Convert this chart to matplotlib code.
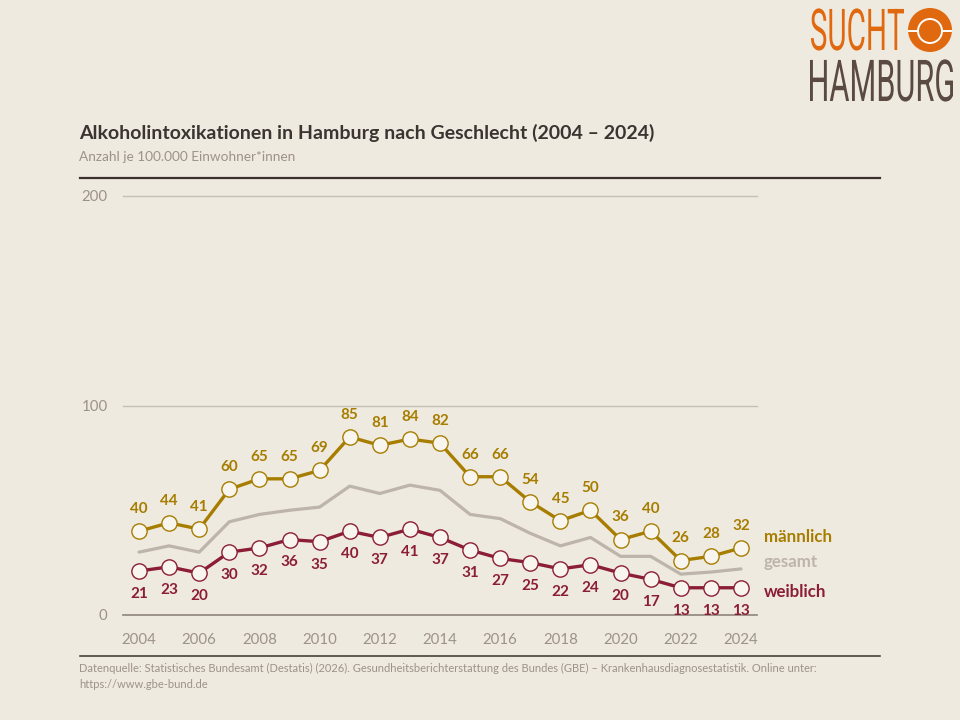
import matplotlib.pyplot as plt
from matplotlib.textpath import TextPath
from matplotlib.patches import PathPatch, Circle
from matplotlib.font_manager import FontProperties
from matplotlib.transforms import Affine2D
import matplotlib.lines as mlines

# data
years = list(range(2004, 2025))
maennlich = [40, 44, 41, 60, 65, 65, 69, 85, 81, 84, 82, 66, 66, 54, 45, 50, 36, 40, 26, 28, 32]
weiblich = [21, 23, 20, 30, 32, 36, 35, 40, 37, 41, 37, 31, 27, 25, 22, 24, 20, 17, 13, 13, 13]
gesamt = [30, 33, 30, 44.5, 48, 50, 51.5, 61.5, 58, 62, 59.5, 48, 46, 39, 33, 37, 28, 28, 19.5, 20.5, 22]
xticks = list(range(2004, 2025, 2))
yticks = [0, 100, 200]

bg = '#EEEAE0'
c_m = '#A77D00'
c_w = '#8C1D36'
c_g = '#BDB4AB'
c_axis = '#9C928A'
c_title = '#3B3430'

plt.rcParams['font.family'] = ['Lato', 'DejaVu Sans']

fig = plt.figure(figsize=(9.6, 7.2), dpi=100)
fig.patch.set_facecolor(bg)

W, H = 960, 720
ax = fig.add_axes([123 / W, 1 - 615 / H, (757 - 123) / W, (615 - 196) / H])
ax.set_facecolor(bg)
ax.set_xlim(2004 - 16 / 30.1, 2024 + 16 / 30.1)
ax.set_ylim(0, 200)
for s in ax.spines.values():
    s.set_visible(False)

for yv in yticks:
    ax.axhline(yv, color='#8E857D' if yv == 0 else '#C6BFB6', lw=1.2 if yv == 0 else 1.0,
               zorder=1, clip_on=False)

ax.set_xticks(xticks)
ax.set_xticklabels([str(x) for x in xticks])
ax.set_yticks(yticks)
ax.tick_params(length=0, labelsize=10.8, labelcolor=c_axis)
ax.tick_params(axis='x', pad=13)
ax.tick_params(axis='y', pad=11)

ax.plot(years, gesamt, color=c_g, lw=2.3, zorder=2, solid_capstyle='round')
ax.plot(years, maennlich, color=c_m, lw=2.4, marker='o', ms=11, mfc='#F8F5EE',
        mec=c_m, mew=1.0, zorder=3)
ax.plot(years, weiblich, color=c_w, lw=2.4, marker='o', ms=11, mfc='#F8F5EE',
        mec=c_w, mew=1.0, zorder=3)

for x, v in zip(years, maennlich):
    ax.annotate(str(v), (x, v), xytext=(0, 16), textcoords='offset points', ha='center',
                va='center', fontsize=11, fontweight='bold', color=c_m)
for x, v in zip(years, weiblich):
    ax.annotate(str(v), (x, v), xytext=(0, -16.5), textcoords='offset points', ha='center',
                va='center', fontsize=11, fontweight='bold', color=c_w)

ax.text(2024.75, 37.2, 'männlich', fontsize=12.2, fontweight='bold', color=c_m, va='center')
ax.text(2024.75, 25.3, 'gesamt', fontsize=12.2, fontweight='bold', color=c_g, va='center')
ax.text(2024.75, 11, 'weiblich', fontsize=12.2, fontweight='bold', color=c_w, va='center')

# title block
fig.text(79 / W, 1 - 133 / H, 'Alkoholintoxikationen in Hamburg nach Geschlecht (2004 – 2024)',
         fontsize=14, fontweight='bold', color=c_title, va='center')
fig.text(79 / W, 1 - 157 / H, 'Anzahl je 100.000 Einwohner*innen', fontsize=9.8,
         color=c_axis, va='center')
fig.add_artist(mlines.Line2D([80 / W, 880 / W], [1 - 178 / H, 1 - 178 / H],
                             color='#3B322C', lw=1.6))
fig.add_artist(mlines.Line2D([80 / W, 880 / W], [1 - 656 / H, 1 - 656 / H],
                             color='#3B322C', lw=1.1))
fig.text(79 / W, 1 - 668 / H,
         'Datenquelle: Statistisches Bundesamt (Destatis) (2026). Gesundheitsberichterstattung des '
         'Bundes (GBE) – Krankenhausdiagnosestatistik. Online unter:',
         fontsize=8.0, color=c_axis, va='center')
fig.text(79 / W, 1 - 684 / H, 'https://www.gbe-bund.de', fontsize=8.0, color=c_axis, va='center')

# logo
lax = fig.add_axes([0, 0, 1, 1])
lax.set_xlim(0, W)
lax.set_ylim(H, 0)
lax.axis('off')
fp = FontProperties(family='Roboto', weight='normal')


def squashed_text(txt, x0, y_base, cap_h, width, color):
    tp = TextPath((0, 0), txt, size=100, prop=fp)
    bb = tp.get_extents()
    sy = cap_h / 71.0
    sx = width / bb.width
    tr = Affine2D().translate(-bb.x0, 0).scale(sx, -sy).translate(x0, y_base)
    lax.add_patch(PathPatch(tr.transform_path(tp), color=color, lw=0))


squashed_text('SUCHT', 811, 50, 41, 93, '#E0690F')
squashed_text('HAMBURG', 810, 101, 41, 143, '#5A4A42')
lax.add_patch(Circle((930, 30), 22, color='#E0690F', lw=0))
lax.add_patch(Circle((930, 31), 12, fill=False, ec='white', lw=1.4))
lax.plot([909, 918], [31, 31], color='white', lw=1.4)
lax.plot([942, 951], [31, 31], color='white', lw=1.4)

fig.savefig('out.png', dpi=100, facecolor=bg)
